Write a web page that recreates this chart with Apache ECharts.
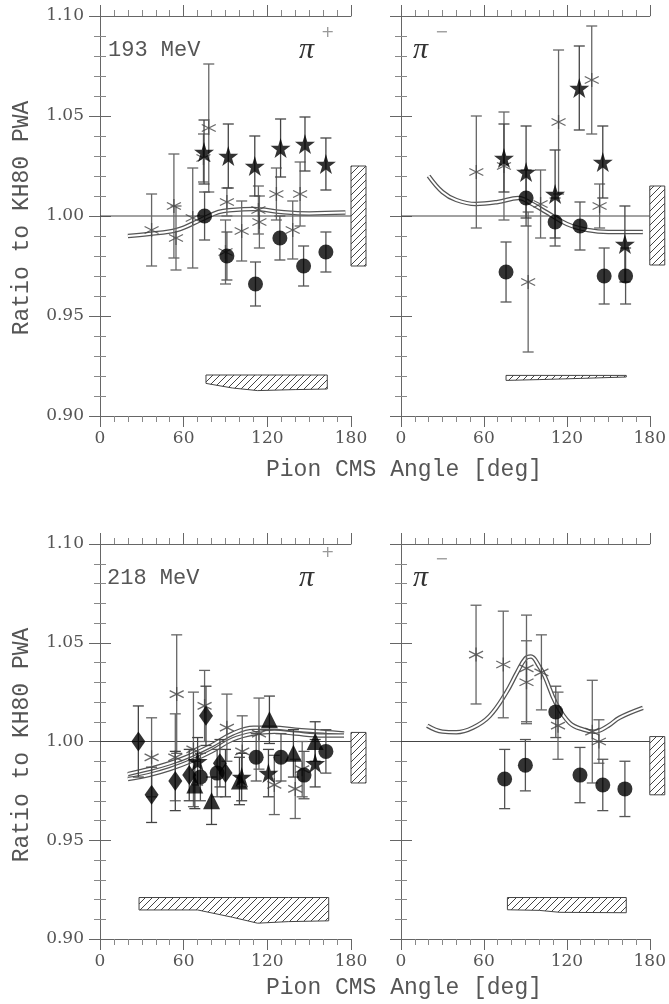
<!DOCTYPE html>
<html>
<head>
<meta charset="utf-8">
<script src="https://cdn.jsdelivr.net/npm/echarts@6/dist/echarts.min.js"></script>
<style>
  html, body { margin: 0; padding: 0; background: #fff; }
  #chart { width: 669px; height: 1004px; }
</style>
</head>
<body>
<div id="chart"></div>
<script>
// each point: [pion CMS angle (deg), ratio to KH80, error]
// ---- 193 MeV, pi+ ----
var circ193p = [[75, 1.000, 0.012], [91, 0.980, 0.012], [111.5, 0.966, 0.011], [129, 0.989, 0.011], [146, 0.975, 0.010], [162, 0.982, 0.010]];
var star193p = [[74.6, 1.032, 0.016], [92, 1.030, 0.016], [111, 1.025, 0.015], [129.5, 1.034, 0.0145], [147, 1.036, 0.0135], [162, 1.026, 0.013]];
var ast193p = [[37, 0.993, 0.018], [53, 1.005, 0.026], [54.5, 0.989, 0.016], [66.5, 0.999, 0.025], [74.2, 1.029, 0.012],
               [78, 1.044, 0.032], [91, 1.007, 0.007], [90, 0.982, 0.016], [101.6, 0.9925, 0.015], [113.6, 1.003, 0.012],
               [114.3, 0.997, 0.013], [126.5, 1.011, 0.013], [138.2, 0.993, 0.0145], [143.5, 1.011, 0.016]];
var curve193p = [[20, 0.990], [35, 0.991], [55, 0.993], [72, 0.998], [85, 1.002], [95, 1.003], [110, 1.0035], [130, 1.002], [150, 1.0013], [176, 1.0017]];
var band193p = [[76, 0.9163, 0.9205], [95, 0.914, 0.9205], [113, 0.9127, 0.9205], [140, 0.9132, 0.9205], [163, 0.9135, 0.9205]];
var norm193p = [0.975, 1.025];

// ---- 193 MeV, pi- ----
var circ193m = [[76, 0.972, 0.015], [90.5, 1.009, 0.014], [111.5, 0.997, 0.012], [129.5, 0.995, 0.012], [147, 0.970, 0.014], [162.5, 0.970, 0.014]];
var star193m = [[74.5, 1.029, 0.017], [90.5, 1.022, 0.023], [111.5, 1.011, 0.022], [129, 1.064, 0.021], [146, 1.027, 0.018], [162, 0.986, 0.019]];
var ast193m = [[54.5, 1.022, 0.028], [74.5, 1.025, 0.027], [92, 0.967, 0.035], [101, 1.006, 0.017], [114, 1.047, 0.036], [138, 1.068, 0.027], [143.7, 1.005, 0.011]];
var curve193m = [[20, 1.020], [30, 1.012], [40, 1.008], [54, 1.006], [70, 1.007], [85, 1.009], [95, 1.006], [105, 1.002], [120, 0.996], [135, 0.993], [150, 0.992], [175, 0.992]];
var band193m = [[76, 0.9178, 0.9203], [100, 0.9182, 0.9203], [130, 0.9188, 0.9203], [163, 0.9195, 0.9203]];
var norm193m = [0.9755, 1.015];

// ---- 218 MeV, pi+ ----
var diam218p = [[27.5, 1.000, 0.018], [37, 0.973, 0.014], [54, 0.980, 0.015], [64, 0.983, 0.013], [76, 1.013, 0.015], [86, 0.989, 0.012], [90, 0.984, 0.012]];
var tri218p = [[68, 0.978, 0.012], [80, 0.970, 0.012], [100, 0.980, 0.012], [121.5, 1.011, 0.012], [138.7, 0.994, 0.012], [154.3, 1.000, 0.010]];
var circ218p = [[72, 0.982, 0.012], [84, 0.984, 0.012], [112, 0.992, 0.012], [129.8, 0.992, 0.012], [146.3, 0.983, 0.012], [162, 0.995, 0.011]];
var star218p = [[70, 0.990, 0.012], [101.6, 0.982, 0.012], [120.8, 0.984, 0.012], [154.3, 0.989, 0.012]];
var ast218p = [[37, 0.992, 0.020], [54, 0.992, 0.022], [55, 1.024, 0.030], [67, 0.996, 0.029], [75, 1.018, 0.018], [91, 1.007, 0.017],
               [102, 0.995, 0.018], [114, 1.004, 0.018], [125, 0.978, 0.015], [140, 0.976, 0.015], [145, 0.986, 0.014]];
var curveA218p = [[20, 0.9835], [35, 0.986], [50, 0.989], [65, 0.993], [80, 0.998], [95, 1.004], [110, 1.007], [125, 1.007], [140, 1.006], [160, 1.005], [175, 1.004]];
var curveB218p = [[20, 0.981], [35, 0.983], [50, 0.986], [65, 0.990], [80, 0.995], [95, 1.001], [110, 1.004], [125, 1.005], [140, 1.004], [160, 1.003], [175, 1.003]];
var band218p = [[28, 0.9147, 0.921], [70, 0.9147, 0.921], [95, 0.911, 0.921], [113, 0.908, 0.921], [135, 0.9088, 0.921], [164, 0.9092, 0.921]];
var norm218p = [0.979, 1.0046];

// ---- 218 MeV, pi- ----
var circ218m = [[75, 0.981, 0.015], [90, 0.988, 0.013], [112, 1.015, 0.013], [129.5, 0.983, 0.014], [146, 0.978, 0.013], [162, 0.976, 0.014]];
var ast218m = [[54.3, 1.044, 0.025], [74, 1.039, 0.027], [90.8, 1.037, 0.027], [90.8, 1.030, 0.021], [101.6, 1.035, 0.019],
               [113.6, 1.008, 0.017], [138.4, 1.005, 0.026], [143.2, 1.000, 0.011]];
var curve218m = [[19, 1.008], [30, 1.005], [40, 1.0047], [52, 1.007], [64, 1.0128], [76, 1.0246], [84, 1.035], [90, 1.042], [94, 1.043],
                 [100, 1.038], [104, 1.033], [112, 1.0195], [122, 1.0094], [132, 1.006], [140, 1.005], [150, 1.008], [158, 1.012], [175, 1.017]];
var band218m = [[77, 0.9148, 0.921], [100, 0.9145, 0.921], [115, 0.9135, 0.921], [163, 0.9133, 0.921]];
var norm218m = [0.973, 1.0025];

var xTicks = [0, 60, 120, 180];

var STAR = 'path://M50,0L61,35L98,35L68,57L79,91L50,70L21,91L32,57L2,35L39,35Z';
var ASTER = 'path://M5,0L5,10M0.67,2.5L9.33,7.5M0.67,7.5L9.33,2.5';
var AXC = '#666';
var TXT = '#555';

// hatching used for the systematic bands and normalisation boxes
var hatch = document.createElement('canvas');
hatch.width = hatch.height = 7;
(function () {
    var c = hatch.getContext('2d');
    c.strokeStyle = '#444';
    c.lineWidth = 1;
    c.beginPath();
    c.moveTo(0, 7); c.lineTo(7, 0);
    c.moveTo(-1, 1); c.lineTo(1, -1);
    c.moveTo(6, 8); c.lineTo(8, 6);
    c.stroke();
})();

var grids = [
    {left: 100, top: 16, width: 251, height: 400},
    {left: 401, top: 16, width: 249, height: 400},
    {left: 100, top: 544, width: 251, height: 395},
    {left: 401, top: 544, width: 249, height: 395}
];

var xAxes = [], yAxes = [];
grids.forEach(function (g, i) {
    var base = {
        gridIndex: i, type: 'value', min: 0, max: 180, interval: 60,
        axisLine: {show: true, lineStyle: {color: AXC, width: 1}},
        axisTick: {show: true, inside: false, length: 11, lineStyle: {color: AXC}},
        minorTick: {show: true, splitNumber: 6, length: 6, lineStyle: {color: '#888'}},
        splitLine: {show: false}
    };
    xAxes.push(Object.assign({}, base, {position: 'bottom',
        axisLabel: {show: true, margin: 14, color: TXT, fontFamily: 'DejaVu Serif', fontSize: 17,
            formatter: function (v) { return xTicks.indexOf(v) >= 0 ? String(v) : ''; }}}));
    xAxes.push(Object.assign({}, base, {position: 'top', axisLabel: {show: false}}));
    var ybase = {
        gridIndex: i, type: 'value', min: 0.90, max: 1.10, interval: 0.05,
        axisLine: {show: true, lineStyle: {color: AXC, width: 1}},
        axisTick: {show: true, inside: false, length: 11, lineStyle: {color: AXC}},
        minorTick: {show: true, splitNumber: 5, length: 6, lineStyle: {color: '#888'}},
        splitLine: {show: false}
    };
    yAxes.push(Object.assign({}, ybase, {position: 'left',
        axisLabel: {show: i % 2 === 0, margin: 16, color: TXT, fontFamily: 'DejaVu Serif', fontSize: 17,
            formatter: function (v) { return v.toFixed(2); }}}));
    yAxes.push(Object.assign({}, ybase, {position: 'right', axisLabel: {show: false}}));
});

function errBars(data, g, color) {
    return {
        type: 'custom', xAxisIndex: g * 2, yAxisIndex: g * 2, data: data, z: 3,
        encode: {x: 0, y: 1}, silent: true,
        renderItem: function (params, api) {
            var x = api.value(0), y = api.value(1), e = api.value(2);
            var hi = api.coord([x, y + e]), lo = api.coord([x, y - e]);
            var w = 5.5, st = {stroke: color, lineWidth: 1.3};
            return {type: 'group', children: [
                {type: 'line', shape: {x1: hi[0], y1: hi[1], x2: lo[0], y2: lo[1]}, style: st},
                {type: 'line', shape: {x1: hi[0] - w, y1: hi[1], x2: hi[0] + w, y2: hi[1]}, style: st},
                {type: 'line', shape: {x1: lo[0] - w, y1: lo[1], x2: lo[0] + w, y2: lo[1]}, style: st}
            ]};
        }
    };
}

function marks(data, g, symbol, size, kind) {
    var s = {
        type: 'scatter', xAxisIndex: g * 2, yAxisIndex: g * 2, data: data, z: 5,
        encode: {x: 0, y: 1}, symbol: symbol, symbolSize: size, silent: true
    };
    if (kind === 'line') {
        s.itemStyle = {color: 'rgba(0,0,0,0)', borderColor: '#444', borderWidth: 1.3};
        s.z = 4;
    } else {
        s.itemStyle = {color: '#000'};
    }
    return s;
}

function doubleCurve(data, g) {
    return [
        {type: 'line', xAxisIndex: g * 2, yAxisIndex: g * 2, data: data, smooth: 0.4, symbol: 'none', z: 2,
            lineStyle: {color: '#555', width: 4.5}, silent: true},
        {type: 'line', xAxisIndex: g * 2, yAxisIndex: g * 2, data: data, smooth: 0.4, symbol: 'none', z: 2,
            lineStyle: {color: '#fff', width: 2}, silent: true}
    ];
}

function refLine(g) {
    return {type: 'line', xAxisIndex: g * 2, yAxisIndex: g * 2, data: [[0, 1], [180, 1]], symbol: 'none', z: 1,
        lineStyle: {color: '#444', width: 1}, silent: true};
}

function band(rows, g) {
    return {
        type: 'custom', xAxisIndex: g * 2, yAxisIndex: g * 2, data: [0], z: 1, silent: true,
        renderItem: function (params, api) {
            var pts = [];
            rows.forEach(function (r) { pts.push(api.coord([r[0], r[2]])); });
            for (var i = rows.length - 1; i >= 0; i--) pts.push(api.coord([rows[i][0], rows[i][1]]));
            return {type: 'polygon', shape: {points: pts},
                style: {fill: {image: hatch, repeat: 'repeat'}, stroke: '#444', lineWidth: 1}};
        }
    };
}

function normBox(nr, g) {
    return {
        type: 'custom', xAxisIndex: g * 2, yAxisIndex: g * 2, data: [0], z: 1, silent: true, clip: false,
        renderItem: function (params, api) {
            var a = api.coord([180, nr[1]]), b = api.coord([180, nr[0]]);
            return {type: 'rect', shape: {x: a[0], y: a[1], width: 15, height: b[1] - a[1]},
                style: {fill: {image: hatch, repeat: 'repeat'}, stroke: '#444', lineWidth: 1}};
        }
    };
}

var series = [];
function panel(g, parts) {
    series.push(refLine(g));
    parts.forEach(function (p) { series = series.concat(p); });
}

panel(0, [band(band193p, 0), normBox(norm193p, 0), doubleCurve(curve193p, 0),
    errBars(ast193p, 0, '#666'), errBars(circ193p, 0, '#555'), errBars(star193p, 0, '#444'),
    marks(ast193p, 0, ASTER, 14, 'line'), marks(circ193p, 0, 'circle', 15), marks(star193p, 0, STAR, 20)]);
panel(1, [band(band193m, 1), normBox(norm193m, 1), doubleCurve(curve193m, 1),
    errBars(ast193m, 1, '#666'), errBars(circ193m, 1, '#555'), errBars(star193m, 1, '#444'),
    marks(ast193m, 1, ASTER, 14, 'line'), marks(circ193m, 1, 'circle', 15), marks(star193m, 1, STAR, 20)]);
panel(2, [band(band218p, 2), normBox(norm218p, 2), doubleCurve(curveA218p, 2), doubleCurve(curveB218p, 2),
    errBars(ast218p, 2, '#666'), errBars(diam218p, 2, '#444'), errBars(tri218p, 2, '#444'),
    errBars(circ218p, 2, '#555'), errBars(star218p, 2, '#444'),
    marks(ast218p, 2, ASTER, 14, 'line'), marks(diam218p, 2, 'diamond', [14, 20]), marks(tri218p, 2, 'triangle', 17),
    marks(circ218p, 2, 'circle', 15), marks(star218p, 2, STAR, 20)]);
panel(3, [band(band218m, 3), normBox(norm218m, 3), doubleCurve(curve218m, 3),
    errBars(ast218m, 3, '#666'), errBars(circ218m, 3, '#555'),
    marks(ast218m, 3, ASTER, 14, 'line'), marks(circ218m, 3, 'circle', 15)]);

function label(x, y, s, font, color, align) {
    return {type: 'text', x: x, y: y, silent: true,
        style: {text: s, fill: color || TXT, font: font, textAlign: align || 'left', textVerticalAlign: 'middle'}};
}

var MONO = '"Liberation Mono", monospace';
var PI = 'italic 30px "Liberation Serif"';
var SUP = '16px "DejaVu Sans"';
var graphics = [
    label(108, 50, '193 MeV', '22px ' + MONO),
    label(107, 578, '218 MeV', '22px ' + MONO),
    label(299, 50, 'π', PI, '#333'),
    label(321, 33, '+', SUP, '#999'),
    label(413, 50, 'π', PI, '#333'),
    label(435, 33, '−', SUP, '#999'),
    label(299, 578, 'π', PI, '#333'),
    label(321, 553, '+', SUP, '#999'),
    label(413, 578, 'π', PI, '#333'),
    label(435, 560, '−', SUP, '#999'),
    label(404, 470, 'Pion CMS Angle [deg]', '23px ' + MONO, TXT, 'center'),
    label(404, 988, 'Pion CMS Angle [deg]', '23px ' + MONO, TXT, 'center'),
    {type: 'text', x: 22, y: 218, rotation: Math.PI / 2, silent: true,
        style: {text: 'Ratio to KH80 PWA', fill: TXT, font: '23px ' + MONO, textAlign: 'center', textVerticalAlign: 'middle'}},
    {type: 'text', x: 22, y: 745, rotation: Math.PI / 2, silent: true,
        style: {text: 'Ratio to KH80 PWA', fill: TXT, font: '23px ' + MONO, textAlign: 'center', textVerticalAlign: 'middle'}}
];

var chart = echarts.init(document.getElementById('chart'));
chart.setOption({
    animation: false,
    backgroundColor: '#fff',
    grid: grids,
    xAxis: xAxes,
    yAxis: yAxes,
    series: series,
    graphic: graphics
});
</script>
</body>
</html>
